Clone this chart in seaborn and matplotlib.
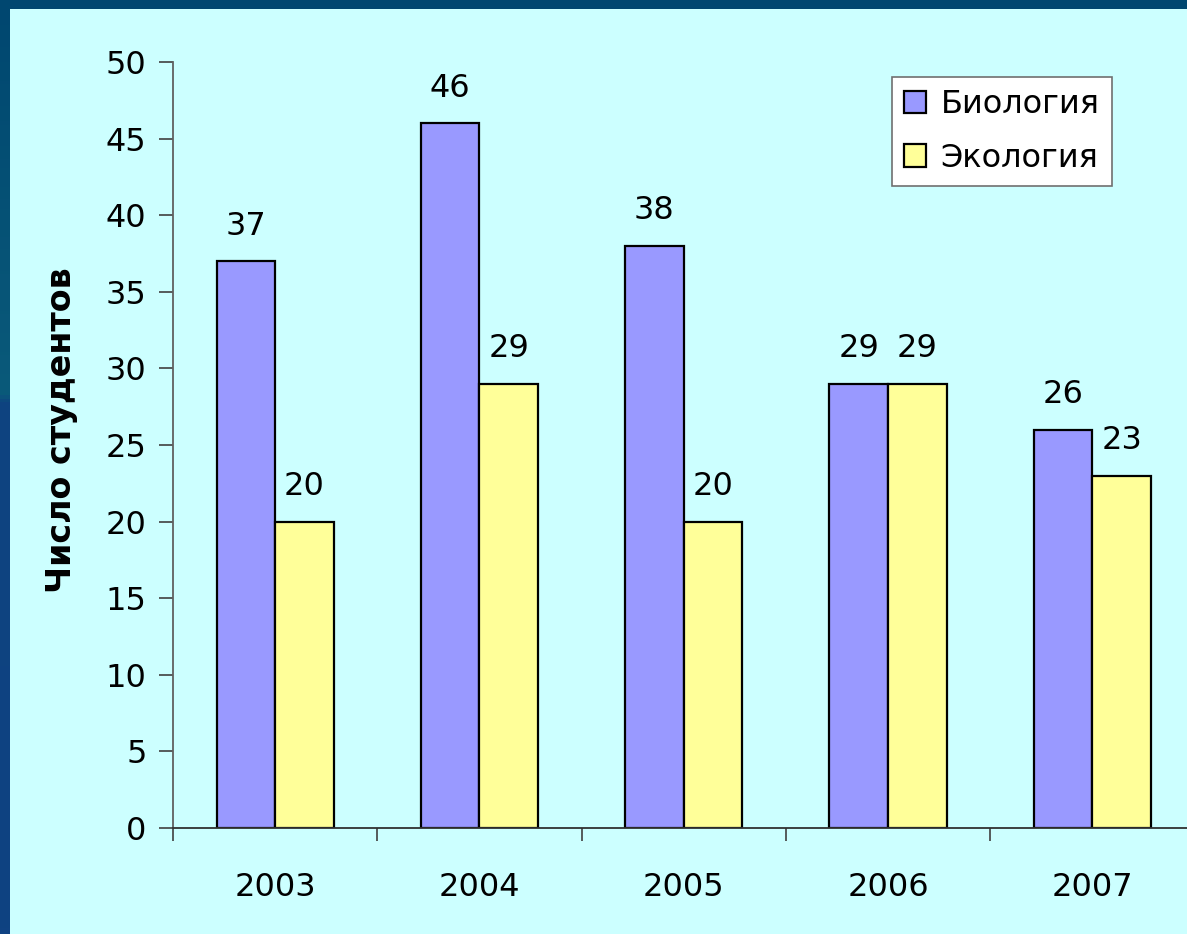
import numpy as np
import pandas as pd
from matplotlib import pyplot as plt
from matplotlib.colors import LinearSegmentedColormap
from matplotlib.patches import Rectangle
import seaborn as sns

sns.set_style("white")
plt.rcParams['font.family'] = ['DejaVu Sans']
plt.rcParams['text.color'] = 'black'
plt.rcParams['axes.labelcolor'] = 'black'
plt.rcParams['xtick.color'] = 'black'
plt.rcParams['ytick.color'] = 'black'

years = ["2003", "2004", "2005", "2006", "2007"]
biology = [37, 46, 38, 29, 26]
ecology = [20, 29, 20, 29, 23]
series_names = ["Биология", "Экология"]
y_label = "Число студентов"

df = pd.DataFrame({
    "year": years * 2,
    "subject": [series_names[0]] * len(years) + [series_names[1]] * len(years),
    "count": biology + ecology,
})

W, H = 1187, 934
fig = plt.figure(figsize=(W / 100, H / 100), dpi=100)

# dark slide frame with a soft vertical gradient
bg = fig.add_axes([0, 0, 1, 1])
frame_cmap = LinearSegmentedColormap.from_list(
    "frame", [(0, "#0F4282"), (0.57, "#0E4480"), (0.58, "#0A5A7A"), (1, "#004770")])
grad = np.linspace(0, 1, 300).reshape(-1, 1)
bg.imshow(grad, aspect="auto", cmap=frame_cmap, origin="lower", extent=[0, 1, 0, 1])
bg.add_patch(Rectangle((10 / W, 0), 1, 1 - 9 / H, color="#CCFFFF", lw=0))
bg.set_xlim(0, 1)
bg.set_ylim(0, 1)
bg.axis("off")

left, bottom = 173 / W, (H - 828) / H
ax = fig.add_axes([left, bottom, 5 * 204.3 / W, 766 / H])
ax.set_facecolor("#CCFFFF")

sns.barplot(data=df, x="year", y="count", hue="subject",
            palette=["#9999FF", "#FFFF99"], saturation=1, width=0.574, gap=0,
            edgecolor="black", linewidth=1.6, ax=ax)

fs = 23
for cont in ax.containers:
    ax.bar_label(cont, padding=14, fontsize=fs, color="black")

ax.set_ylim(0, 50)
ax.set_yticks(range(0, 51, 5))
ax.set_xlim(-0.5, 4.5)
ax.set_xticks(range(len(years)))
ax.set_xticks(np.arange(-0.5, 5, 1), minor=True)
ax.tick_params(axis="x", which="major", bottom=False, length=0, pad=32, labelsize=fs)
ax.tick_params(axis="x", which="minor", bottom=True, length=9, width=1.2,
               color="#404040", direction="out")
ax.tick_params(axis="y", length=10, width=1.2, color="#404040", direction="out",
               pad=9, labelsize=fs, left=True)

for s in ["top", "right"]:
    ax.spines[s].set_visible(False)
ax.spines["left"].set_color("#606060")
ax.spines["left"].set_linewidth(1.3)
ax.spines["bottom"].set_color("#303030")
ax.spines["bottom"].set_linewidth(1.3)

ax.set_xlabel("")
ax.set_ylabel(y_label, fontsize=24, fontweight="bold")
ax.yaxis.set_label_coords(-0.093, 0.52)

leg = ax.legend(loc="upper right", bbox_to_anchor=(0.919, 0.980), borderaxespad=0,
                fontsize=fs, frameon=True, fancybox=False, handlelength=0.7,
                handleheight=0.7, handletextpad=0.45, labelspacing=0.7,
                borderpad=0.38, title=None)
leg.get_frame().set_edgecolor("#707070")
leg.get_frame().set_facecolor("white")
leg.get_frame().set_alpha(1)
leg.get_frame().set_linewidth(1.2)

fig.savefig("out.png", dpi=100)
